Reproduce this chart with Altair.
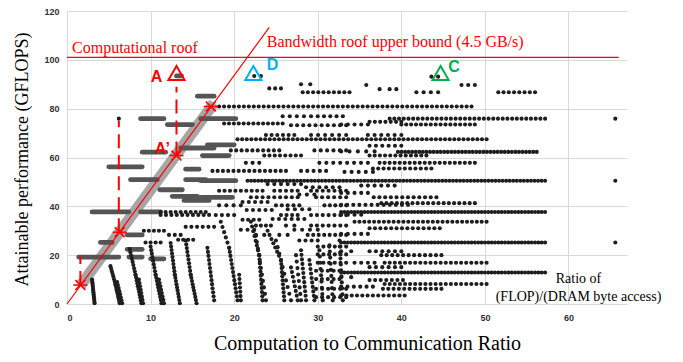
import altair as alt
import numpy as np
import pandas as pd

X_TICKS = [0, 10, 20, 30, 40, 50, 60]
Y_TICKS = [0, 20, 40, 60, 80, 100, 120]

# Rows of design points: (GFLOPS, ratio start, ratio end, number of points)
DOT_ROWS = [
    (93.4, 22.4, 23.2, 2), (93.1, 43.6, 44.4, 2), (90.0, 28.0, 29.1, 2),
    (89.7, 35.8, 35.8, 1), (89.7, 47.2, 48.8, 3), (88.3, 24.2, 25.6, 3),
    (88.0, 37.4, 37.4, 1), (88.0, 38.6, 39.4, 2), (86.7, 28.2, 33.8, 10),
    (86.7, 41.8, 44.4, 4), (86.7, 51.6, 56.0, 8), (80.9, 18.2, 48.4, 52),
    (76.9, 25.8, 29.2, 5), (76.9, 30.0, 33.0, 5), (75.9, 38.6, 57.2, 34),
    (75.9, 65.6, 65.6, 1), (75.9, 6.2, 6.2, 1), (73.9, 18.8, 25.8, 13),
    (73.2, 26.8, 33.4, 10), (74.6, 36.2, 40.0, 7), (73.5, 32.8, 36.0, 5),
    (73.5, 40.0, 48.8, 16), (69.2, 23.8, 27.2, 6), (69.2, 29.2, 33.4, 6),
    (69.2, 36.0, 40.0, 6), (67.5, 20.4, 50.2, 55), (64.8, 36.2, 40.0, 6),
    (62.9, 19.6, 25.4, 10), (62.9, 29.6, 33.4, 6), (62.5, 32.8, 36.8, 5),
    (62.3, 39.6, 56.2, 40), (60.8, 23.6, 28.0, 8), (60.8, 36.2, 43.0, 12),
    (57.8, 21.4, 23.0, 3), (57.8, 30.2, 36.0, 8), (57.8, 37.4, 48.8, 20),
    (54.5, 17.4, 26.2, 15), (54.5, 28.0, 31.0, 5), (55.5, 36.6, 43.6, 12),
    (54.1, 33.2, 36.6, 5), (50.5, 21.6, 57.2, 85), (50.5, 65.6, 65.6, 1),
    (48.5, 35.2, 39.2, 6), (49.1, 24.0, 28.0, 6), (46.4, 18.2, 23.4, 9),
    (46.4, 24.8, 27.6, 5), (46.4, 29.2, 33.4, 7), (45.5, 32.8, 36.0, 5),
    (43.7, 22.0, 27.6, 9), (43.7, 29.8, 33.4, 6), (43.7, 36.7, 44.2, 12),
    (41.3, 37.6, 48.8, 19), (40.6, 32.8, 40.8, 12), (40.4, 18.2, 20.8, 4),
    (40.4, 25.0, 27.8, 5), (40.4, 30.8, 33.4, 5), (37.7, 32.8, 57.2, 62),
    (37.7, 11.2, 16.6, 10), (36.5, 11.2, 17.0, 10), (36.4, 17.8, 20.0, 4),
    (36.4, 25.6, 27.6, 4), (36.4, 29.2, 33.4, 7), (36.6, 32.8, 35.2, 4),
    (33.7, 34.4, 50.2, 28), (32.1, 29.2, 33.4, 7), (31.6, 14.2, 17.6, 6),
    (32.1, 22.6, 24.4, 4), (32.1, 26.2, 27.2, 2), (28.3, 22.6, 23.6, 2),
    (28.3, 25.4, 26.4, 2), (34.5, 21.0, 23.0, 4), (38.5, 21.5, 24.5, 5),
    (44.8, 27.8, 29.6, 3), (41.8, 21.0, 24.0, 5), (38.8, 26.4, 29.0, 4),
    (34.8, 24.6, 28.4, 6), (30.4, 20.8, 22.4, 3), (30.4, 27.2, 30.0, 4),
    (26.0, 27.8, 30.0, 4), (47.8, 28.6, 32.6, 6),
    (31.0, 36.2, 44.6, 14), (30.0, 9.2, 11.6, 5), (28.7, 32.8, 36.0, 5),
    (28.3, 28.8, 33.4, 8), (28.3, 12.2, 13.6, 3), (25.2, 32.8, 57.2, 62),
    (25.2, 65.6, 65.6, 1), (25.2, 9.4, 11.2, 4), (26.3, 13.3, 15.1, 4),
    (21.6, 32.8, 34.0, 2), (21.6, 36.2, 40.0, 6), (20.0, 37.6, 44.8, 12),
    (16.9, 34.4, 36.8, 4), (16.9, 38.0, 50.2, 21), (15.1, 36.2, 40.0, 6),
    (12.9, 32.8, 57.2, 62), (11.0, 32.8, 34.0, 2), (9.8, 36.2, 40.2, 7),
    (8.2, 38.0, 50.2, 21), (7.1, 32.8, 36.6, 6), (6.2, 37.8, 44.8, 12),
    (3.5, 32.8, 40.4, 13), (13.6, 29.8, 32.6, 5), (10.2, 29.8, 32.6, 5),
    (6.2, 29.8, 33.4, 6), (2.8, 29.8, 33.4, 6), (16.9, 30.0, 33.4, 6),
    (20.3, 30.0, 33.4, 6), (23.5, 30.0, 33.4, 6),
]

# Stacks of design points: (ratio top, GFLOPS top, ratio bottom, GFLOPS bottom, number of points)
DOT_COLUMNS = [
    (3.0, 10.0, 3.3, 0.3, 14),
    (5.2, 15.5, 5.8, 8.0, 8), (5.8, 8.0, 6.3, 0.3, 9), (6.0, 9.0, 6.6, 0.3, 8),
    (7.5, 22.5, 8.2, 12.0, 9), (8.2, 12.0, 8.9, 0.3, 11), (8.6, 10.0, 9.1, 0.3, 8),
    (10.0, 23.5, 10.6, 12.0, 9), (10.6, 12.0, 11.3, 0.3, 10), (11.0, 10.0, 11.6, 0.3, 8),
    (12.4, 25.0, 12.9, 12.0, 10), (12.9, 12.0, 13.5, 0.3, 10),
    (14.2, 26.0, 14.8, 12.0, 10), (14.8, 12.0, 15.5, 0.3, 10),
    (16.8, 23.0, 17.6, 1.5, 14),
    (18.4, 33.7, 19.4, 23.0, 6), (19.4, 23.0, 20.4, 1.5, 14), (20.6, 12.0, 20.8, 1.5, 7),
    (22.0, 33.7, 23.0, 20.0, 8), (23.0, 20.0, 23.4, 1.5, 12), (22.6, 28.0, 23.8, 1.5, 11),
    (24.0, 30.0, 25.6, 18.0, 8), (25.6, 18.0, 26.0, 1.5, 11), (26.8, 15.0, 27.6, 1.5, 8),
    (25.0, 26.0, 26.8, 1.5, 10), (27.4, 20.0, 28.0, 1.5, 8),
    (28.0, 22.0, 28.6, 1.5, 12), (29.0, 18.0, 29.6, 1.5, 10),
    (30.2, 22.0, 30.6, 1.5, 9), (31.4, 24.0, 31.8, 1.5, 10), (32.6, 26.0, 33.0, 1.5, 11),
]

# Dense grey runs of overlapping points: (GFLOPS, ratio start, ratio end)
GRAY_RUNS = [
    (93.4, 13.1, 13.7), (85.1, 15.6, 17.6), (75.9, 8.8, 11.6), (75.9, 16.0, 20.2),
    (73.5, 12.0, 15.0), (65.2, 16.8, 20.0), (63.9, 13.6, 17.6), (62.2, 9.0, 11.8),
    (60.8, 16.2, 19.4), (56.2, 5.0, 9.0), (55.2, 14.2, 15.8), (50.9, 7.6, 10.8),
    (50.9, 14.2, 16.6), (50.5, 16.0, 20.2), (46.8, 11.1, 13.8), (44.1, 12.6, 15.6),
    (43.7, 16.0, 19.8), (42.4, 14.0, 17.0), (37.7, 3.0, 7.4), (37.7, 8.8, 11.2),
    (28.3, 7.2, 9.0), (25.2, 4.0, 5.4), (22.4, 7.2, 9.0), (19.2, 1.4, 6.2),
    (18.5, 10.0, 11.6), (19.2, 7.4, 9.0),
]

ROOF = 101.0
BW_SLOPE = 4.68
BW_END = 24.2
BAND = (1.6, 17.6)

STAR_X = [1.6, 6.3, 13.1, 17.2]
STAR_Y = [7.8, 29.4, 60.8, 80.9]

DASH_X = [1.6, 6.2, 13.1]
DASH_Y0 = [7.8, 29.4, 60.8]
DASH_Y1 = [19.5, 75.0, 89.0]

TRI_X = [13.1, 22.3, 44.7]
TRI_Y = [94.6, 94.6, 94.6]
TRI_C = ["#ff0000", "#00b0f0", "#00b050"]

LAB_T = ["A", "A\u2019", "D", "C"]
LAB_X = [10.7, 11.4, 24.6, 46.3]
LAB_Y = [93.0, 63.3, 97.8, 97.0]
LAB_C = ["#ff0000", "#ff0000", "#00b0f0", "#00b050"]

# ---------- tables ----------
pts = []
for y, x0, x1, n in DOT_ROWS:
    for x in np.linspace(x0, x1, n):
        pts.append((x, y))
for xt, yt, xb, yb, n in DOT_COLUMNS:
    for t in np.linspace(0, 1, n):
        pts.append((xt + (xb - xt) * t, yt + (yb - yt) * t))
dots = pd.DataFrame(pts, columns=["x", "y"])

runs = pd.DataFrame([{"x": a, "x2": b, "y": y, "y2": y} for y, a, b in GRAY_RUNS])
roof = pd.DataFrame([{"x": 0, "x2": 66.0, "y": ROOF, "y2": ROOF}])
bw = pd.DataFrame([{"x": 0, "x2": BW_END, "y": 0, "y2": BW_SLOPE * BW_END}])
band = pd.DataFrame([{"x": BAND[0], "x2": BAND[1], "y": BW_SLOPE * BAND[0], "y2": BW_SLOPE * BAND[1]}])
stars = pd.DataFrame({"x": STAR_X, "y": STAR_Y})
dashes = pd.DataFrame({"x": DASH_X, "x2": DASH_X, "y": DASH_Y0, "y2": DASH_Y1})
tris = pd.DataFrame({"x": TRI_X, "y": TRI_Y, "c": TRI_C})
labs = pd.DataFrame({"x": LAB_X, "y": LAB_Y, "t": LAB_T, "c": LAB_C})
notes = pd.DataFrame([
    {"x": 0.6, "y": 105.0, "t": "Computational roof"},
    {"x": 23.9, "y": 107.4, "t": "Bandwidth roof upper bound (4.5 GB/s)"},
])
ratio = pd.DataFrame([
    {"x": 61.2, "y": 10.2, "t": "Ratio of"},
    {"x": 61.2, "y": 2.9, "t": "(FLOP)/(DRAM byte access)"},
])

X = alt.X("x:Q", scale=alt.Scale(domain=[0, 67], nice=False, zero=False),
          axis=alt.Axis(values=X_TICKS, grid=True, gridColor="#d9d9d9", domainColor="#d9d9d9",
                        ticks=False, labelFont="Liberation Sans", labelFontWeight="bold",
                        labelFontSize=9, labelColor="#333333", labelPadding=9,
                        title="Computation to Communication Ratio", titleFont="Liberation Serif",
                        titleFontSize=20, titleFontWeight="normal", titleColor="#000000",
                        titleX=300, titleY=39, titleBaseline="middle", titleAlign="center"))
Y = alt.Y("y:Q", scale=alt.Scale(domain=[0, 120], nice=False),
          axis=alt.Axis(values=Y_TICKS, grid=True, gridColor="#d9d9d9", domainColor="#d9d9d9",
                        ticks=False, labelFont="Liberation Sans", labelFontWeight="bold",
                        labelFontSize=9, labelColor="#333333", labelPadding=8,
                        title="Attainable performance (GFLOPS)", titleFont="Liberation Serif",
                        titleFontSize=18, titleFontWeight="normal", titleColor="#000000",
                        titleX=-45, titleY=148, titleAngle=270, titleBaseline="middle",
                        titleAlign="center"))

l_band = alt.Chart(band).mark_rule(color="#a6a6a6", strokeWidth=11).encode(
    x=X, y=Y, x2="x2", y2="y2")
l_runs = alt.Chart(runs).mark_rule(color="#555555", strokeWidth=4.8, strokeCap="round").encode(
    x=X, y=Y, x2="x2")
l_dots = alt.Chart(dots).mark_point(filled=True, size=17, color="#1e1e1e", opacity=1).encode(x=X, y=Y)
l_roof = alt.Chart(roof).mark_rule(color="#ff0000", strokeWidth=1.2).encode(x=X, y=Y, x2="x2")
l_bw = alt.Chart(bw).mark_rule(color="#ff0000", strokeWidth=1.2).encode(x=X, y=Y, x2="x2", y2="y2")
l_dash = alt.Chart(dashes).mark_rule(color="#ff0000", strokeWidth=2, strokeDash=[14, 7]).encode(
    x=X, y=Y, y2="y2")
l_stars = alt.Chart(stars).mark_point(
    shape="M-1,0L1,0M-0.7,-0.7L0.7,0.7M-0.7,0.7L0.7,-0.7", size=200, filled=False,
    color="#ff0000", strokeWidth=1.6, opacity=1).encode(x=X, y=Y)
l_tris = alt.Chart(tris).mark_point(shape="triangle-up", size=260, filled=False,
                                    strokeWidth=2, opacity=1).encode(
    x=X, y=Y, color=alt.Color("c:N", scale=None))
l_labs = alt.Chart(labs).mark_text(font="Liberation Sans", fontWeight="bold", fontSize=16,
                                   align="center", baseline="middle").encode(
    x=X, y=Y, text="t:N", color=alt.Color("c:N", scale=None))
l_notes = alt.Chart(notes).mark_text(font="Liberation Serif", fontSize=16, color="#ff0000",
                                     align="left", baseline="middle").encode(x=X, y=Y, text="t:N")
l_ratio = alt.Chart(ratio).mark_text(font="Liberation Serif", fontSize=14, color="#000000",
                                     align="center", baseline="middle").encode(x=X, y=Y, text="t:N")

chart = alt.layer(l_band, l_runs, l_dots, l_roof, l_bw, l_dash, l_stars, l_tris, l_labs,
                  l_notes, l_ratio).properties(
    width=560, height=293,
    padding={"left": 59, "top": 3, "right": 48, "bottom": 50},
    autosize=alt.AutoSizeParams(type="none"),
).configure_view(stroke=None)

chart.save("out.html", embed_options={"renderer": "svg", "actions": False})
